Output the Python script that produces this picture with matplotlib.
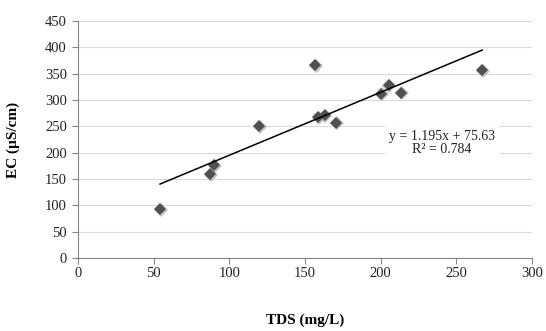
import matplotlib
matplotlib.use("Agg")
import matplotlib.pyplot as plt
import numpy as np

# Data
tds = [54.2, 87.1, 89.7, 119.7, 156.5, 158.5, 162.9, 170.4, 200.1, 205.2, 213.4, 267.1]
ec = [93.5, 159, 177, 251, 366, 267, 272, 257, 312, 329, 314, 357]
slope = 1.195
intercept = 75.63
r2 = 0.784
xticks = [0, 50, 100, 150, 200, 250, 300]
yticks = [0, 50, 100, 150, 200, 250, 300, 350, 400, 450]

plt.rcParams['font.family'] = ['Liberation Serif', 'DejaVu Serif']

fig = plt.figure(figsize=(5.46, 3.31), dpi=100)
ax = fig.add_axes([78/546, 1 - 258/331, (532-78)/546, (258-21)/331])

ax.set_xlim(0, 300)
ax.set_ylim(0, 450)
ax.set_xticks(xticks)
ax.set_yticks(yticks)
ax.yaxis.grid(True, color='#d9d9d9', linewidth=0.8)
ax.set_axisbelow(True)
for s in ['top', 'right']:
    ax.spines[s].set_visible(False)
for s in ['left', 'bottom']:
    ax.spines[s].set_color('#868686')
    ax.spines[s].set_linewidth(0.8)
ax.tick_params(axis='both', colors='#868686', labelcolor='#222222', labelsize=10.5,
               length=4, direction='out', width=0.8)
ax.tick_params(axis='x', pad=2.5)
ax.tick_params(axis='y', pad=4)

# shadow
ax.plot(np.array(tds) + 0.6, np.array(ec) - 1.5, linestyle='none', marker='D',
        markersize=6.9, color='#9a9a9a', alpha=0.6, markeredgewidth=0, zorder=2)
ax.plot(tds, ec, linestyle='none', marker='D', markersize=6.6, color='#505050',
        markeredgewidth=0, zorder=3)

xs = np.array([min(tds), max(tds)])
ax.plot(xs, slope * xs + intercept, color='black', linewidth=1.1, zorder=4)

ax.text(0.802, 0.485, f"y = {slope}x + {intercept}\nR² = {r2}", transform=ax.transAxes,
        ha='center', va='center', fontsize=10, color='#222222', linespacing=1.0,
        bbox=dict(facecolor='white', edgecolor='none', pad=3), zorder=5)

fig.text(305/546, 1 - 320/331, 'TDS (mg/L)', ha='center', va='center',
         fontsize=11, fontweight='bold')
fig.text(13/546, 1 - 140/331, 'EC (µS/cm)', ha='center', va='center',
         fontsize=11, fontweight='bold', rotation=90)

fig.savefig('out.png', dpi=100)
